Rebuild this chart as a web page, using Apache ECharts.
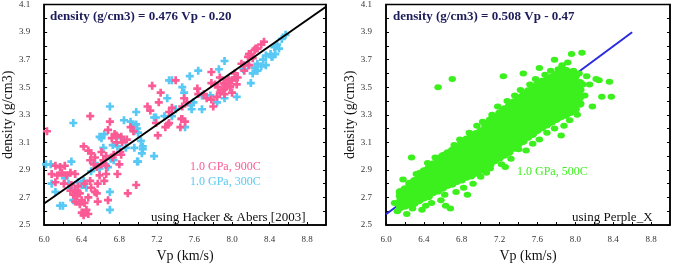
<!DOCTYPE html>
<html>
<head>
<meta charset="utf-8">
<script src="https://cdn.jsdelivr.net/npm/echarts@6/dist/echarts.min.js"></script>
<style>
  html, body { margin: 0; padding: 0; background: #fff; }
  #main { width: 675px; height: 268px; }
</style>
</head>
<body>
<div id="main"></div>
<script>
// axis ranges (both panels share them)
const vpRange = [6.0, 9.0]
const rhoRange = [2.5, 4.1]

// Hacker & Abers: 1.0 GPa, 900C (pink crosses)
const pink900 = [
  [6.03,3.18],[6.49,3.29],[6.70,3.25],[6.68,3.19],[6.72,3.13],[6.75,3.16],[6.77,3.10],
  [6.42,3.07],[6.47,3.04],[6.50,3.02],[6.54,2.99],[6.49,2.97],[6.53,2.94],[6.56,2.92],
  [6.61,3.03],[6.63,2.97],[6.66,3.00],[6.61,2.94],[6.73,2.99],[6.80,2.94],[6.82,3.01],
  [6.12,2.93],[6.17,2.92],[6.22,2.93],[6.08,2.87],[6.14,2.86],[6.19,2.88],[6.24,2.86],
  [6.12,2.81],[6.21,2.80],[6.28,2.88],[6.33,2.87],
  [6.29,2.79],[6.33,2.75],[6.36,2.78],[6.38,2.73],[6.35,2.71],[6.40,2.68],[6.33,2.67],
  [6.38,2.65],[6.43,2.66],[6.45,2.61],[6.40,2.59],[6.42,2.57],[6.47,2.58],[6.31,2.72],[6.28,2.75],
  [6.43,2.80],[6.49,2.82],[6.50,2.77],[6.54,2.74],[6.47,2.70],[6.56,2.73],
  [6.59,2.86],[6.57,2.80],[6.66,2.87],[6.64,2.82],[6.57,2.67],[6.68,2.68],[6.89,2.73],[6.98,2.79],
  [6.66,2.93],[6.78,2.87],[6.77,3.15],[6.82,3.14],[6.83,3.10],[6.81,3.03],[6.74,3.01],
  [6.92,3.21],[6.95,3.18],[6.88,3.12],[7.13,3.33],[7.32,3.23],[7.46,3.27],
  [7.78,3.61],[7.40,3.55],[7.15,3.51],[7.24,3.46],[7.10,3.36],[7.22,3.39],[7.36,3.35],
  [7.49,3.42],[7.47,3.36],[7.52,3.39],[7.63,3.49],[7.64,3.45],
  [7.70,3.45],[7.73,3.42],[7.78,3.41],[7.84,3.43],[7.87,3.46],[7.92,3.49],[7.98,3.51],
  [8.00,3.55],[8.03,3.57],[7.96,3.56],[7.91,3.53],[7.82,3.52],[7.78,3.53],[7.87,3.57],
  [7.85,3.50],[8.00,3.46],[7.80,3.36],[7.33,3.32],
  [7.29,3.21],[7.33,3.24],[7.47,3.27],[7.45,3.21],[7.50,3.25],[7.21,3.15],[7.19,3.24],
  [8.34,3.83],[8.31,3.81],[8.24,3.77],[8.27,3.78],[8.18,3.74],[8.17,3.72],[8.22,3.71],
  [8.10,3.67],[8.13,3.66],[8.03,3.60],[8.06,3.57],[7.96,3.55],[7.92,3.52],[7.98,3.50],
  [7.91,3.48],[7.92,3.45],[8.05,3.52],[8.20,3.74],[8.25,3.78],[8.18,3.66],[8.13,3.62]
]

// Hacker & Abers: 1.0 GPa, 300C (cyan crosses)
const cyan300 = [
  [6.70,3.36],[6.31,3.24],[6.85,3.26],[6.92,3.25],[6.98,3.32],[6.98,3.23],[6.99,3.20],
  [6.59,3.14],[6.64,3.16],[6.73,3.08],[6.82,3.13],[6.87,3.06],[6.99,2.96],[7.05,3.05],
  [6.07,2.94],[6.08,2.80],[6.12,2.74],[6.17,2.64],[6.22,2.84],[6.29,2.96],[6.26,2.80],
  [6.31,2.68],[6.29,2.77],[6.36,2.81],[6.40,2.79],[6.42,2.82],[6.45,2.77],[6.36,2.74],
  [6.54,2.95],[6.50,2.89],[6.59,2.91],[6.68,2.92],[6.70,2.74],[6.70,2.61],[6.71,2.98],
  [6.78,3.07],[6.61,3.13],[6.63,3.06],
  [7.64,3.62],[7.47,3.50],[7.33,3.55],[7.49,3.46],[7.31,3.42],[7.56,3.37],[7.59,3.39],
  [7.57,3.34],[7.68,3.34],[7.77,3.44],[7.84,3.39],[7.92,3.42],[7.36,3.29],[7.40,3.34],
  [7.17,3.28],[7.50,3.21],[7.28,3.29],[6.95,3.22],[6.96,3.18],[7.00,3.17],[7.03,3.11],
  [7.05,3.07],[6.96,3.06],[7.17,3.00],[7.00,2.96],[7.19,3.28],
  [8.57,3.88],[8.53,3.85],[8.48,3.81],[8.45,3.79],[8.50,3.78],[8.46,3.74],[8.41,3.74],
  [8.43,3.72],[8.36,3.73],[8.33,3.70],[8.36,3.66],[8.27,3.67],[8.31,3.65],[8.24,3.64],
  [8.27,3.62],[8.17,3.66],[8.22,3.60],[8.20,3.53],[7.92,3.69],[8.12,3.63],[8.05,3.43],
  [7.86,3.63],[8.04,3.57],[8.42,3.72],[8.47,3.80],[7.55,3.58],[7.36,3.55],[7.68,3.44],
  [7.04,3.02],[6.74,2.97],[6.20,2.64],[6.02,2.94]
]

// Perple_X: 1.0 GPa, 500C -- dense core, one Vp column per row
const greenCore = [
  [6.15,[2.63,2.67,2.71,2.74]],
  [6.20,[2.64,2.68,2.72,2.76]],
  [6.25,[2.65,2.69,2.73,2.77,2.80]],
  [6.30,[2.66,2.70,2.74,2.78,2.82]],
  [6.35,[2.68,2.72,2.76,2.80,2.84,2.87]],
  [6.40,[2.70,2.74,2.78,2.82,2.86,2.89]],
  [6.45,[2.71,2.75,2.79,2.83,2.87,2.91]],
  [6.50,[2.74,2.78,2.82,2.86,2.90,2.94]],
  [6.55,[2.75,2.79,2.83,2.87,2.91,2.95,2.98]],
  [6.60,[2.77,2.81,2.85,2.89,2.93,2.97,3.00]],
  [6.65,[2.79,2.83,2.87,2.91,2.95,2.99,3.02]],
  [6.70,[2.80,2.84,2.88,2.92,2.96,3.00,3.04]],
  [6.75,[2.82,2.86,2.90,2.94,2.98,3.02,3.06]],
  [6.80,[2.83,2.87,2.91,2.95,2.99,3.03,3.07,3.10]],
  [6.85,[2.85,2.89,2.93,2.97,3.01,3.05,3.09,3.12]],
  [6.90,[2.86,2.90,2.94,2.98,3.02,3.06,3.10,3.14]],
  [6.95,[2.88,2.92,2.96,3.00,3.04,3.08,3.12,3.16]],
  [7.00,[2.90,2.94,2.98,3.02,3.06,3.10,3.14,3.18]],
  [7.05,[2.92,2.96,3.00,3.04,3.08,3.12,3.16,3.20,3.23]],
  [7.10,[2.94,2.98,3.02,3.06,3.10,3.14,3.18,3.22,3.26]],
  [7.15,[2.97,3.01,3.05,3.09,3.13,3.17,3.21,3.25,3.28]],
  [7.20,[2.99,3.03,3.07,3.11,3.15,3.19,3.23,3.27,3.31]],
  [7.25,[3.01,3.05,3.09,3.13,3.17,3.21,3.25,3.29,3.34]],
  [7.30,[3.03,3.07,3.11,3.15,3.19,3.23,3.27,3.31,3.36]],
  [7.35,[3.06,3.10,3.14,3.18,3.22,3.26,3.30,3.34,3.39]],
  [7.40,[3.09,3.13,3.17,3.21,3.25,3.29,3.33,3.37,3.42]],
  [7.45,[3.11,3.15,3.19,3.23,3.27,3.31,3.35,3.39,3.44]],
  [7.50,[3.14,3.18,3.22,3.26,3.30,3.34,3.38,3.42,3.47]],
  [7.55,[3.16,3.20,3.24,3.28,3.32,3.36,3.40,3.44,3.49]],
  [7.60,[3.19,3.23,3.27,3.31,3.35,3.39,3.43,3.47,3.52]],
  [7.65,[3.21,3.25,3.29,3.33,3.37,3.41,3.45,3.49,3.54]],
  [7.70,[3.23,3.27,3.31,3.35,3.39,3.43,3.47,3.51,3.55]],
  [7.75,[3.25,3.29,3.33,3.37,3.41,3.45,3.49,3.53,3.57]],
  [7.80,[3.27,3.31,3.35,3.39,3.43,3.47,3.51,3.55,3.59]],
  [7.85,[3.29,3.33,3.37,3.41,3.45,3.49,3.53,3.57,3.61]],
  [7.90,[3.30,3.34,3.38,3.42,3.46,3.50,3.54,3.58,3.62]],
  [7.95,[3.32,3.36,3.40,3.44,3.48,3.52,3.56,3.60]],
  [8.00,[3.34,3.38,3.42,3.46,3.50,3.54,3.58]],
  [8.05,[3.38,3.43,3.48,3.53]]
]

// Perple_X: scattered points round the core
const greenLoose = [
  [6.09,2.66],[6.12,2.60],[6.18,2.83],[6.22,2.58],[6.28,2.62],[6.27,2.99],[6.32,2.87],
  [6.38,2.61],[6.42,2.64],[6.44,2.95],[6.48,2.66],[6.52,2.99],[6.55,3.50],[6.58,2.68],
  [6.62,2.72],[6.63,2.64],[6.68,2.62],[6.70,3.56],[6.72,3.08],[6.74,2.74],[6.78,3.12],
  [6.82,2.77],[6.86,2.72],[6.88,3.17],[6.92,2.80],[6.96,3.22],[7.00,2.85],[7.02,3.25],
  [7.06,2.88],[7.10,2.91],[7.12,3.30],[7.18,3.36],[7.22,2.94],[7.24,3.58],[7.26,2.92],
  [7.28,3.40],[7.32,2.98],[7.36,3.44],[7.40,3.05],[7.42,3.48],[7.45,3.60],[7.48,3.04],
  [7.52,3.52],[7.55,3.09],[7.58,3.56],[7.62,3.64],[7.62,3.12],[7.68,3.59],[7.70,3.17],
  [7.74,3.62],[7.78,3.70],[7.78,3.20],[7.82,3.63],[7.85,3.15],[7.86,3.66],[7.88,3.22],
  [7.92,3.68],[7.94,3.26],[7.98,3.62],[8.02,3.30],[8.04,3.60],[8.07,3.75],[8.08,3.52],
  [8.10,3.44],[8.12,3.58],[8.15,3.52],[8.18,3.36],[8.22,3.56],[8.25,3.55],[8.28,3.43],
  [8.36,3.54],[8.38,3.43],[7.96,3.74],[8.00,3.38]
]

// regression lines
const fitHacker = [[6.0, 2.656], [9.0, 4.084]]
const fitPerple = [[6.0, 2.578], [8.6, 3.899]]

const greenCorePts = []
greenCore.forEach(function (col) {
  col[1].forEach(function (d) { greenCorePts.push([col[0], d]) })
})

const serif = "'Liberation Serif', 'DejaVu Serif', serif"
const crossPath = 'path://M3,0H6V3H9V6H6V9H3V6H0V3H3Z'
const green = '#3cf01e'

function xAxisFor(gi) {
  return {
    type: 'value', gridIndex: gi, min: vpRange[0], max: vpRange[1], interval: 0.2,
    name: 'Vp (km/s)', nameLocation: 'middle', nameGap: 24,
    nameTextStyle: { fontFamily: serif, fontSize: 14, color: '#111' },
    axisLine: { lineStyle: { color: '#000', width: 1.5 } },
    axisTick: { inside: true, length: 3, lineStyle: { color: '#000' } },
    axisLabel: {
      fontFamily: serif, fontSize: 9, color: '#333', margin: 10, showMaxLabel: false,
      formatter: function (v) { return Math.round(v * 10) % 4 === 0 ? v.toFixed(1) : '' }
    },
    splitLine: { show: false }
  }
}

function yAxisFor(gi, right) {
  return {
    type: 'value', gridIndex: gi, min: rhoRange[0], max: rhoRange[1], interval: 0.1,
    position: right ? 'right' : 'left',
    name: right ? '' : 'density (g/cm3)', nameLocation: 'middle', nameGap: 25,
    nameTextStyle: { fontFamily: serif, fontSize: 14, color: '#111' },
    axisLine: { show: true, lineStyle: { color: '#000', width: 1.5 } },
    axisTick: { inside: true, length: 3, lineStyle: { color: '#000' } },
    axisLabel: {
      show: !right, fontFamily: serif, fontSize: 9, color: '#333', margin: 14,
      formatter: function (v) { return Math.round(v * 10) % 2 === 1 ? v.toFixed(1) : '' }
    },
    splitLine: { show: false }
  }
}

function label(x, y, text, color, size, bold) {
  return {
    type: 'text', left: x, top: y,
    style: { text: text, fill: color, font: (bold ? 'bold ' : '') + size + 'px ' + serif }
  }
}

const myChart = echarts.init(document.getElementById('main'))

const option = {
  animation: false,
  backgroundColor: '#fff',
  grid: [
    { left: 40, right: 349, top: 4, bottom: 35, show: true, borderColor: '#000', borderWidth: 1.5 },
    { left: 386, right: 5, top: 4, bottom: 36, show: true, borderColor: '#000', borderWidth: 1.5 }
  ],
  xAxis: [xAxisFor(0), xAxisFor(1)],
  yAxis: [yAxisFor(0, false), yAxisFor(0, true), yAxisFor(1, false), yAxisFor(1, true)],
  series: [
    {
      type: 'scatter', xAxisIndex: 0, yAxisIndex: 0, data: cyan300,
      symbol: crossPath, symbolSize: 8,
      itemStyle: { color: '#58c8f4', opacity: 1, borderWidth: 0 }
    },
    {
      type: 'scatter', xAxisIndex: 0, yAxisIndex: 0, data: pink900,
      symbol: crossPath, symbolSize: 8,
      itemStyle: { color: '#fb5a95', opacity: 1, borderWidth: 0 }
    },
    {
      type: 'line', xAxisIndex: 0, yAxisIndex: 0, data: fitHacker,
      symbol: 'none', lineStyle: { color: '#000', width: 2 }
    },
    {
      type: 'line', xAxisIndex: 1, yAxisIndex: 2, data: fitPerple,
      symbol: 'none', lineStyle: { color: '#2a2ae0', width: 2 }
    },
    {
      type: 'scatter', xAxisIndex: 1, yAxisIndex: 2, data: greenCorePts, z: 3,
      symbol: 'circle', symbolSize: [9, 8],
      itemStyle: { color: green, opacity: 1, borderWidth: 0 }
    },
    {
      type: 'scatter', xAxisIndex: 1, yAxisIndex: 2, data: greenLoose, z: 3,
      symbol: 'circle', symbolSize: [7.5, 6],
      itemStyle: { color: green, opacity: 1, borderWidth: 0 }
    }
  ],
  graphic: [
    label(50, 10, 'density (g/cm3) = 0.476 Vp - 0.20', '#1c1c5a', 13, true),
    label(190, 161, '1.0 GPa, 900C', '#fb5a95', 12, false),
    label(190, 176, '1.0 GPa, 300C', '#58c8f4', 12, false),
    label(151, 211, 'using Hacker & Abers [2003]', '#111', 13, false),
    label(393, 10, 'density (g/cm3) = 0.508 Vp - 0.47', '#1c1c5a', 13, true),
    label(517, 166, '1.0 GPa, 500C', green, 12, false),
    label(572, 211, 'using Perple_X', '#111', 13, false)
  ]
}

myChart.setOption(option)
</script>
</body>
</html>
